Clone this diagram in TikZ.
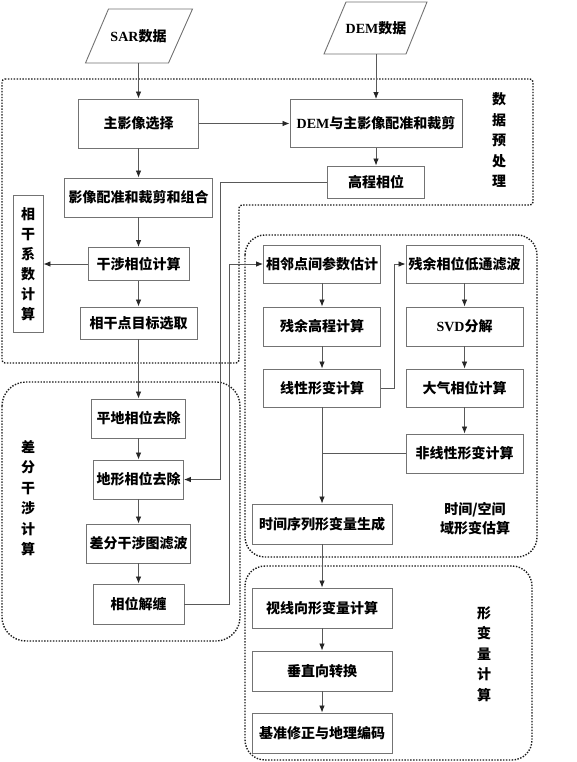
\documentclass[tikz,border=0pt]{standalone}
\usepackage{fontspec}
\newfontfamily\cjk{Noto Sans CJK SC}
\newfontfamily\lat{Liberation Serif}
\usetikzlibrary{arrows.meta}
\begin{document}
\begin{tikzpicture}[x=1pt,y=-1pt,
 box/.style={draw=black!55, line width=0.9pt, fill=white, inner sep=0pt, text=black,
   font=\cjk\bfseries\fontsize{14}{17}\selectfont},
 plain/.style={inner sep=0pt, text=black, font=\cjk\bfseries\fontsize{14}{17}\selectfont},
 lbl/.style={inner sep=0pt, align=center, text=black, font=\cjk\bfseries\fontsize{14}{20.5}\selectfont},
 arr/.style={draw=black!65, line width=0.8pt, -{Latex[length=7pt,width=5.5pt,color=black!85]}},
 ln/.style={draw=black!65, line width=0.8pt},
 region/.style={draw=black!90, line width=1.4pt, dash pattern=on 1.4pt off 1.5pt},
 para/.style={draw=black!55, line width=0.9pt, fill=white},
]
\useasboundingbox (0,0) rectangle (576,762);
\fill[white] (0,0) rectangle (576,762);

% dotted regions
\draw[region, rounded corners=3pt] (2,79) -- (533,79) -- (533,205) -- (239,205) -- (239,363) -- (2,363) -- cycle;
\draw[region, rounded corners=24pt] (2,382) rectangle (240,641);
\draw[region, rounded corners=20pt] (245,235) rectangle (537,557);
\draw[region, rounded corners=20pt] (245,566) rectangle (532,760);

% input parallelograms
\draw[para] (108.5,9) -- (192.5,9) -- (168.5,63) -- (85.5,63) -- cycle;
\node[plain, minimum width=60pt, minimum height=54pt] (sar) at (138.5,36) {{\lat SAR}数据};
\draw[para] (346,2) -- (427,2) -- (406,54) -- (324,54) -- cycle;
\node[plain, minimum width=60pt, minimum height=52pt] (dem) at (376,28) {{\lat DEM}数据};

% preprocessing
\node[box, minimum width=120pt, minimum height=49pt] (b1) at (138.5,123.5) {主影像选择};
\node[box, minimum width=172pt, minimum height=48pt] (b2) at (376,123.5) {{\lat DEM}与主影像配准和裁剪};
\node[box, minimum width=97pt, minimum height=32pt] (b3) at (376,182) {高程相位};
\node[box, minimum width=148pt, minimum height=39pt] (b4) at (138.5,197.5) {影像配准和裁剪和组合};
\node[box, minimum width=30pt, minimum height=137pt, align=center,
  font=\cjk\bfseries\fontsize{14}{20}\selectfont] (b5) at (28,264) {相\\干\\系\\数\\计\\算};
\node[box, minimum width=101pt, minimum height=33pt] (b6) at (138.5,264) {干涉相位计算};
\node[box, minimum width=117pt, minimum height=32pt] (b7) at (138.5,323) {相干点目标选取};

% differential interferometry
\node[box, minimum width=94pt, minimum height=39pt] (b8) at (138.5,418.5) {平地相位去除};
\node[box, minimum width=90pt, minimum height=39pt] (b9) at (138.5,479.5) {地形相位去除};
\node[box, minimum width=104pt, minimum height=39pt] (b10) at (138.5,543.5) {差分干涉图滤波};
\node[box, minimum width=91pt, minimum height=40pt] (b11) at (138.5,604) {相位解缠};

% time/space estimation
\node[box, minimum width=117pt, minimum height=38pt] (c1) at (322,264) {相邻点间参数估计};
\node[box, minimum width=117pt, minimum height=39pt] (c2) at (322,326.5) {残余高程计算};
\node[box, minimum width=117pt, minimum height=38pt] (c3) at (322,388) {线性形变计算};
\node[box, minimum width=117pt, minimum height=38pt] (d1) at (464.5,264) {残余相位低通滤波};
\node[box, minimum width=117pt, minimum height=39pt] (d2) at (464.5,326.5) {{\lat SVD}分解};
\node[box, minimum width=117pt, minimum height=38pt] (d3) at (464.5,388) {大气相位计算};
\node[box, minimum width=117pt, minimum height=39pt] (d4) at (464.5,453.5) {非线性形变计算};
\node[box, minimum width=140pt, minimum height=40pt] (e1) at (322,524) {时间序列形变量生成};

% deformation
\node[box, minimum width=140pt, minimum height=40pt] (f1) at (322,608) {视线向形变量计算};
\node[box, minimum width=140pt, minimum height=40pt] (f2) at (322,671) {垂直向转换};
\node[box, minimum width=140pt, minimum height=40pt] (f3) at (322,733) {基准修正与地理编码};

% region labels
\node[lbl] (t1) at (499,140) {数\\据\\预\\处\\理};
\node[lbl] (t2) at (28,498) {差\\分\\干\\涉\\计\\算};
\node[lbl, font=\cjk\bfseries\fontsize{14}{19}\selectfont] (t3) at (475,519) {时间/空间\\域形变估算};
\node[lbl] (t4) at (484,654) {形\\变\\量\\计\\算};

% connectors
\draw[arr] (sar) -- (b1);
\draw[arr] (dem) -- (b2);
\draw[arr] (b1) -- (b2);
\draw[arr] (b2) -- (b3);
\draw[arr] (b1) -- (b4);
\draw[arr] (b4) -- (b6);
\draw[arr] (b6) -- (b5);
\draw[arr] (b6) -- (b7);
\draw[arr] (b7) -- (b8);
\draw[arr] (b8) -- (b9);
\draw[arr] (b9) -- (b10);
\draw[arr] (b10) -- (b11);
\draw[arr] (b3.west) -- ++(-107,0) |- (b9.east);
\draw[arr] (b11.east) -- ++(45,0) |- (c1.west);
\draw[arr] (c1) -- (c2);
\draw[arr] (c2) -- (c3);
\draw[arr] (c3.east) -- ++(13,0) |- (d1.west);
\draw[arr] (d1) -- (d2);
\draw[arr] (d2) -- (d3);
\draw[arr] (d3) -- (d4);
\draw[ln] (d4.west) -- (d4.west -| c3.south);
\draw[arr] (c3) -- (e1);
\draw[arr] (e1) -- (f1);
\draw[arr] (f1) -- (f2);
\draw[arr] (f2) -- (f3);
\end{tikzpicture}
\end{document}
